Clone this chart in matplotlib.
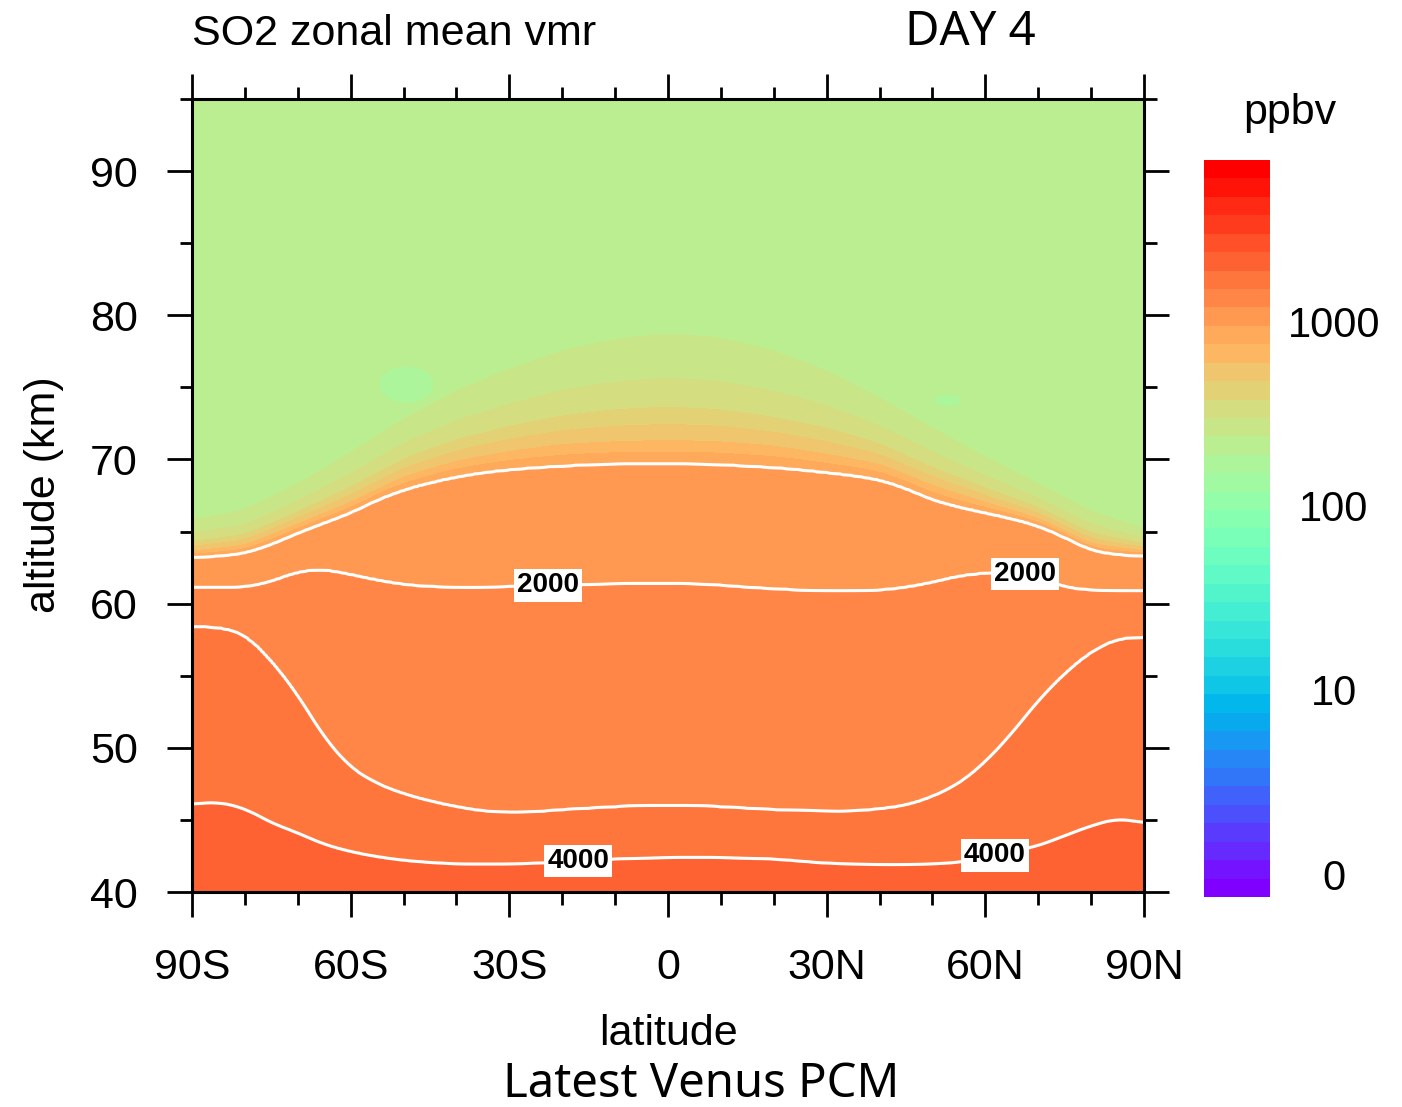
import numpy as np
import matplotlib
matplotlib.use("Agg")
import matplotlib.pyplot as plt
import matplotlib.transforms as mtransforms
from matplotlib.colors import ListedColormap, BoundaryNorm

plt.rcParams.update({
    'font.family': ['Liberation Sans', 'DejaVu Sans'],
    'font.size': 30,
})

# latitude grid of the digitised isolines (deg, S negative)
LAT = np.arange(-90, 91, 5)

# altitude (km) of the white contour lines
H4000 = [46.1, 46.25, 45.8, 44.8, 44.1, 43.3, 42.8, 42.45, 42.2, 42.05, 41.95, 41.95, 41.95,
         42.0, 42.1, 42.2, 42.3, 42.35, 42.4, 42.4, 42.4, 42.35, 42.3, 42.15, 42.0, 41.95,
         41.9, 41.9, 41.95, 42.05, 42.4, 42.8, 43.2, 43.9, 44.6, 45.1, 44.8]
H3000 = [58.4, 58.4, 57.9, 56.1, 53.7, 50.7, 48.6, 47.5, 46.8, 46.3, 45.9, 45.6, 45.5,
         45.55, 45.7, 45.8, 45.9, 46.0, 46.0, 46.0, 45.9, 45.8, 45.7, 45.65, 45.6, 45.6,
         45.75, 46.0, 46.6, 47.5, 49.0, 51.0, 53.3, 55.2, 56.7, 57.6, 57.7]
H2000 = [61.15, 61.15, 61.15, 61.55, 62.25, 62.4, 62.05, 61.65, 61.35, 61.2, 61.15, 61.15, 61.2,
         61.25, 61.3, 61.35, 61.4, 61.4, 61.4, 61.4, 61.3, 61.15, 61.05, 60.95, 60.9, 60.9,
         60.95, 61.15, 61.5, 61.95, 62.15, 62.2, 61.9, 61.15, 60.95, 60.9, 60.9]
H1000 = [63.2, 63.3, 63.5, 64.1, 64.9, 65.6, 66.3, 67.2, 67.9, 68.4, 68.8, 69.1, 69.3,
         69.45, 69.55, 69.65, 69.7, 69.7, 69.7, 69.7, 69.65, 69.55, 69.45, 69.3, 69.1, 68.9,
         68.6, 68.0, 67.2, 66.7, 66.3, 65.9, 65.4, 64.6, 63.7, 63.4, 63.3]

# upper transition (cloud top) isolines, coarser latitude grid
LAT_UP = np.arange(-90, 91, 10)
H600 = [63.7, 64.1, 65.6, 67.1, 68.9, 70.0, 70.7, 71.2, 71.4, 71.5,
        71.4, 71.1, 70.5, 69.8, 68.3, 67.1, 66.0, 64.2, 63.7]
H350 = [64.5, 65.0, 66.6, 68.4, 70.4, 71.8, 72.8, 73.6, 74.1, 74.3,
        74.1, 73.5, 72.7, 71.5, 69.8, 68.3, 66.9, 65.1, 64.3]
H250 = [65.8, 66.5, 68.3, 70.5, 72.8, 74.8, 76.3, 77.6, 78.4, 78.8,
        78.5, 77.6, 76.2, 74.3, 72.2, 70.2, 68.3, 66.4, 65.2]

VMR_BOTTOM = 4400.0   # ppbv at 40 km
VMR_TOP = 225.0       # ppbv at 95 km

# small low-SO2 pockets near 75 km
BLOB_LAT = [-49.5, 52.8]
BLOB_ALT = [75.2, 74.1]
BLOB_DLAT = [5.5, 2.8]
BLOB_DALT = [1.3, 0.5]
BLOB_VMR = [185.0, 185.0]

# colour levels (ppbv) -- labelled every 10th
LEVELS = [0.0] + [10 ** (k / 10) for k in range(1, 31)] + [2000, 3000, 4000, 5000, 6000, 7000, 8000, 9000]
BAR_LABELS = ['0', '10', '100', '1000']
XTICKS = [-90, -60, -30, 0, 30, 60, 90]
XTICKLABELS = ['90S', '60S', '30S', '0', '30N', '60N', '90N']
YTICKS = [40, 50, 60, 70, 80, 90]


def smooth(y, n=5):
    pad = np.concatenate([np.full(n, y[0]), y, np.full(n, y[-1])])
    k = np.ones(2 * n + 1) / (2 * n + 1)
    return np.convolve(pad, k, mode='same')[n:-n]


lat_f = np.linspace(-90, 90, 361)
alt_f = np.linspace(40, 95, 551)

iso = []
for lats, h in [(LAT, H4000), (LAT, H3000), (LAT, H2000), (LAT, H1000),
                (LAT_UP, H600), (LAT_UP, H350), (LAT_UP, H250)]:
    iso.append(smooth(np.interp(lat_f, lats, h)))
iso_vals = np.log10([4000, 3000, 2000, 1000, 600, 350, 250])

logv = np.empty((alt_f.size, lat_f.size))
for j in range(lat_f.size):
    z = [40.0] + [h[j] for h in iso] + [95.0]
    v = np.concatenate([[np.log10(VMR_BOTTOM)], iso_vals, [np.log10(VMR_TOP)]])
    logv[:, j] = np.interp(alt_f, z, v)
vmr = 10 ** logv

LA, AL = np.meshgrid(lat_f, alt_f)
for la, z, dla, dz, val in zip(BLOB_LAT, BLOB_ALT, BLOB_DLAT, BLOB_DALT, BLOB_VMR):
    inside = ((LA - la) / dla) ** 2 + ((AL - z) / dz) ** 2 < 1
    vmr[inside] = np.minimum(vmr[inside], val)

colors = plt.get_cmap('rainbow')(np.linspace(0, 1, len(LEVELS) + 1))
cmap = ListedColormap(colors)
norm = BoundaryNorm(LEVELS, ncolors=len(colors), extend='both')

fig = plt.figure(figsize=(14.02, 11.07), dpi=100)
W, H = 1402.0, 1107.0
ax = fig.add_axes([192 / W, 1 - 892 / H, 952 / W, 793 / H])

ax.contourf(lat_f, alt_f, vmr, levels=LEVELS, cmap=cmap, norm=norm, extend='both')
ax.contour(lat_f, alt_f, vmr, levels=[1000, 2000, 3000, 4000], colors='white', linewidths=2.2)

# contour labels
lab_kw = dict(ha='center', va='center', fontsize=20, fontweight='bold', color='black', zorder=5,
              bbox=dict(boxstyle='square,pad=0.12', fc='white', ec='none'))
for la in [-22.7, 67.5]:
    ax.text(la, np.interp(la, lat_f, iso[2]), '2000', **lab_kw)
for la in [-17.0, 61.8]:
    ax.text(la, np.interp(la, lat_f, iso[0]), '4000', **lab_kw)

ax.set_xlim(-90, 90)
ax.set_ylim(40, 95)
ax.set_xticks(XTICKS)
ax.set_xticklabels(XTICKLABELS)
ax.set_xticks(np.arange(-90, 91, 10), minor=True)
ax.set_yticks(YTICKS)
ax.set_yticks(np.arange(40, 96, 5), minor=True)
ax.tick_params(which='both', direction='out', top=True, right=True, width=2, color='black')
ax.tick_params(which='major', length=18, labelsize=31)
ax.tick_params(axis='x', which='major', pad=22)
ax.tick_params(axis='y', which='major', pad=21)
ax.tick_params(which='minor', length=9)
for s in ax.spines.values():
    s.set_linewidth(2.2)

fig.text(668 / W, 1 - 1045 / H, 'latitude', ha='center', va='baseline', fontsize=31)
fig.text(44 / W, 1 - 495 / H, 'altitude (km)', ha='center', va='center', rotation=90, fontsize=31)
fig.text(192 / W, 1 - 45 / H, 'SO2 zonal mean vmr', ha='left', va='baseline', fontsize=31)
fig.text(970 / W, 1 - 45 / H, 'DAY 4', ha='center', va='baseline', fontsize=34, family='Noto Sans')
fig.text(701 / W, 1 - 1097 / H, 'Latest Venus PCM', ha='center', va='baseline', fontsize=34,
         family='Noto Sans')

# colour bar drawn band by band
cax = fig.add_axes([1204 / W, 1 - 897 / H, 66 / W, 737 / H])
nb = len(colors)
cax.pcolormesh([0, 1], np.arange(nb + 1), (np.arange(nb) + 0.5).reshape(-1, 1),
               cmap=cmap, norm=BoundaryNorm(np.arange(nb + 1), nb), shading='flat')
cax.set_xlim(0, 1)
cax.set_ylim(0, nb)
cax.set_xticks([])
cax.set_yticks([])
for s in cax.spines.values():
    s.set_visible(False)
tr = mtransforms.blended_transform_factory(cax.transAxes, cax.transData)
for i, lab in enumerate(BAR_LABELS):
    cax.text(1.97, 1 + 10 * i, lab, transform=tr, ha='center', va='center', fontsize=30)
fig.text(1290 / W, 1 - 113 / H, 'ppbv', ha='center', va='center', fontsize=31)

fig.savefig('out.png', dpi=100)
